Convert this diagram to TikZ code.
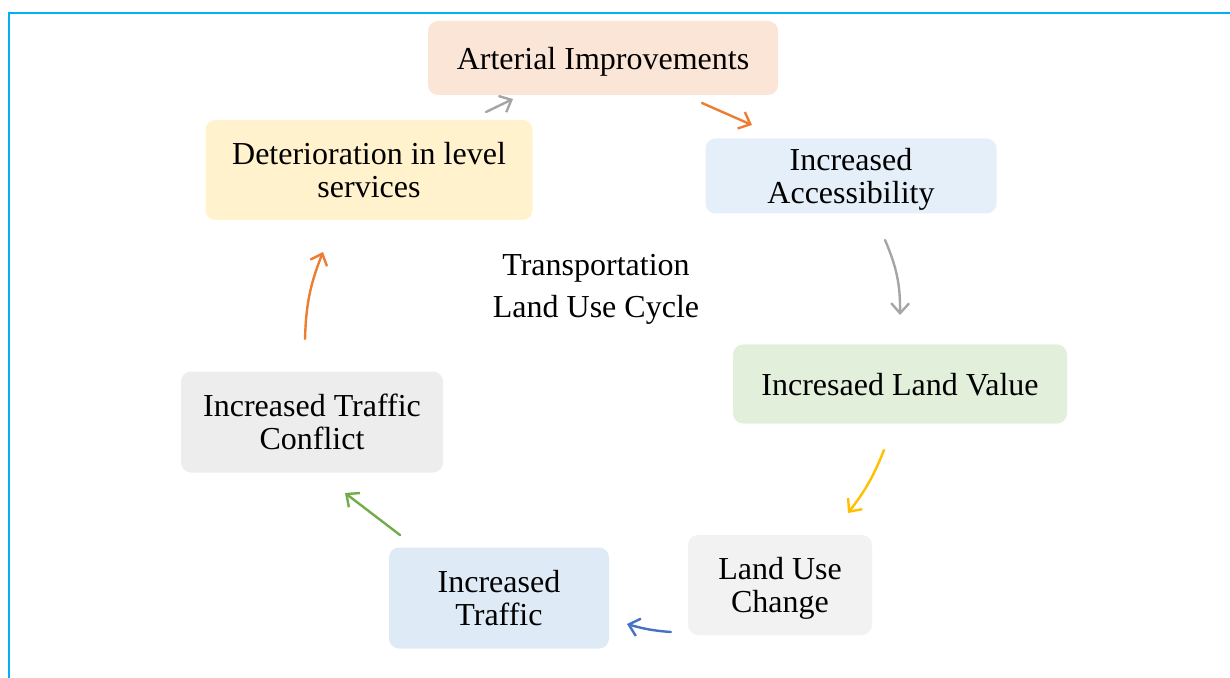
\documentclass[tikz,border=0pt]{standalone}
\usepackage{fontspec}
\setmainfont{Liberation Serif}
\usetikzlibrary{arrows.meta}
\definecolor{framecyan}{HTML}{00B0F0}
\definecolor{peach}{HTML}{FBE5D6}
\definecolor{skyblue}{HTML}{E5EFF9}
\definecolor{palegreen}{HTML}{E2EFDA}
\definecolor{lightgrey}{HTML}{F2F2F2}
\definecolor{paleblue}{HTML}{DEEAF6}
\definecolor{midgrey}{HTML}{EDEDED}
\definecolor{paleyellow}{HTML}{FFF2CC}
\definecolor{arrgrey}{HTML}{A5A5A5}
\definecolor{arrorange}{HTML}{ED7D31}
\definecolor{arryellow}{HTML}{FFC000}
\definecolor{arrblue}{HTML}{4472C4}
\definecolor{arrgreen}{HTML}{70AD47}
\tikzset{
  stage/.style={rounded corners=5pt, align=center, inner sep=0pt, text depth=0pt,
    font=\fontsize{16}{16.5}\selectfont},
  cyc/.style={line width=1.2pt, line cap=round, -{Straight Barb[length=5pt,width=9pt]}}
}

\begin{document}
\begin{tikzpicture}[x=0.5pt,y=-0.5pt]
			\useasboundingbox (0,0) rectangle (1230,678);
			\draw[framecyan,line width=1pt] (9,678) -- (9,13) -- (1230,13);
			% stages of the cycle
			\node[stage,fill=peach,minimum width=175pt,minimum height=37pt] (arterial) at (603,58) {Arterial Improvements};
			\node[stage,fill=skyblue,minimum width=145.5pt,minimum height=37.5pt] (access) at (851,176) {Increased\\Accessibility};
			\node[stage,fill=palegreen,minimum width=167pt,minimum height=39.5pt] (value) at (900,384) {Incresaed Land Value};
			\node[stage,fill=lightgrey,minimum width=92pt,minimum height=50pt] (landuse) at (780,585) {Land Use\\Change};
			\node[stage,fill=paleblue,minimum width=110pt,minimum height=50.5pt] (traffic) at (499,598) {Increased\\Traffic};
			\node[stage,fill=midgrey,minimum width=131pt,minimum height=50.5pt] (conflict) at (312,422) {Increased Traffic\\Conflict};
			\node[stage,fill=paleyellow,minimum width=163.5pt,minimum height=50pt] (deterior) at (369,170) {Deterioration in level\\services};
			% title in the middle
			\node[align=center,font=\fontsize{16}{21}\selectfont] (title) at (596,289) {Transportation\\Land Use Cycle};
			% arrow ends
			\coordinate (a1) at (702,103); \coordinate (b1) at (752,125);
			\coordinate (a2) at (885,240); \coordinate (b2) at (900,315);
			\coordinate (a3) at (884,450); \coordinate (b3) at (848,513);
			\coordinate (a4) at (671,632); \coordinate (b4) at (627,624);
			\coordinate (a5) at (400,535); \coordinate (b5) at (345,493);
			\coordinate (a6) at (305,339); \coordinate (b6) at (323,252);
			\coordinate (a7) at (486,112); \coordinate (b7) at (513,99);
			% arrows
			\draw[cyc,arrorange] (a1) -- (b1);
			\draw[cyc,arrgrey] (a2) to[bend left=12] (b2);
			\draw[cyc,arryellow] (a3) to[bend left=8] (b3);
			\draw[cyc,arrblue] (a4) to[bend left=6] (b4);
			\draw[cyc,arrgreen] (a5) -- (b5);
			\draw[cyc,arrorange] (a6) to[bend left=10] (b6);
			\draw[cyc,arrgrey] (a7) -- (b7);
		\end{tikzpicture}
\end{document}
